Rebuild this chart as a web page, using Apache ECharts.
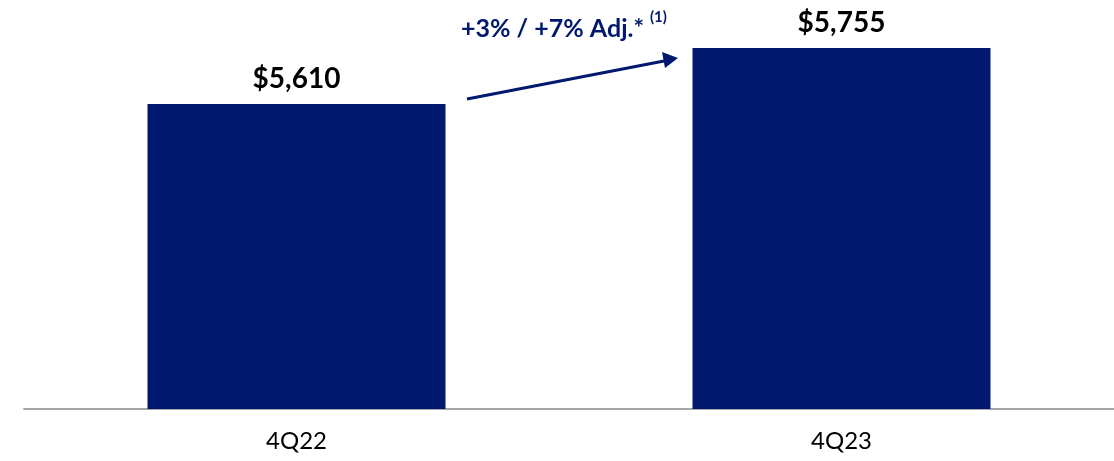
<!DOCTYPE html>
<html>
<head>
<meta charset="utf-8">
<script src="https://cdn.jsdelivr.net/npm/echarts@6/dist/echarts.min.js"></script>
<style>
  html, body { margin: 0; padding: 0; background: #fff; }
  #chart { width: 1114px; height: 461px; }
</style>
</head>
<body>
<div id="chart"></div>
<script>
const categories = ["4Q22", "4Q23"];
const revenue    = [5610, 5755];
const growthText = "+3% / +7% Adj.*";
const growthNote = "(1)";

const navy = "#00186e";
const font = "Lato, 'Open Sans', sans-serif";

const chart = echarts.init(document.getElementById("chart"), null, { renderer: "canvas" });

chart.setOption({
  backgroundColor: "#fff",
  animation: false,
  grid: { left: 24, right: -3, top: 0, bottom: 52 },
  xAxis: {
    type: "category",
    data: categories,
    axisLine: { lineStyle: { color: "#a6a6a6", width: 2 } },
    axisTick: { show: false },
    axisLabel: { color: "#000", fontSize: 24, fontFamily: font, margin: 20 },
  },
  yAxis: {
    type: "value",
    min: 4820,
    max: 5879,
    show: false,
    splitLine: { show: false },
  },
  series: [
    {
      type: "bar",
      data: revenue,
      barWidth: 298,
      itemStyle: { color: navy },
      label: {
        show: true,
        position: "top",
        distance: 11,
        color: "#000",
        fontSize: 28,
        fontWeight: "bold",
        fontFamily: font,
        formatter: (p) => "$" + p.value.toLocaleString("en-US"),
      },
    },
  ],
  graphic: [
    {
      type: "line",
      shape: { x1: 467, y1: 99, x2: 664, y2: 61 },
      style: { stroke: navy, lineWidth: 3 },
    },
    {
      type: "polygon",
      shape: { points: [[678, 58], [662, 52], [665, 68]] },
      style: { fill: navy },
    },
    {
      type: "text",
      left: 461,
      top: 16,
      style: { text: growthText, fill: navy, font: "bold 25px " + font },
    },
    {
      type: "text",
      left: 650,
      top: 10,
      style: { text: growthNote, fill: navy, font: "bold 15px " + font },
    },
  ],
});
</script>
</body>
</html>
